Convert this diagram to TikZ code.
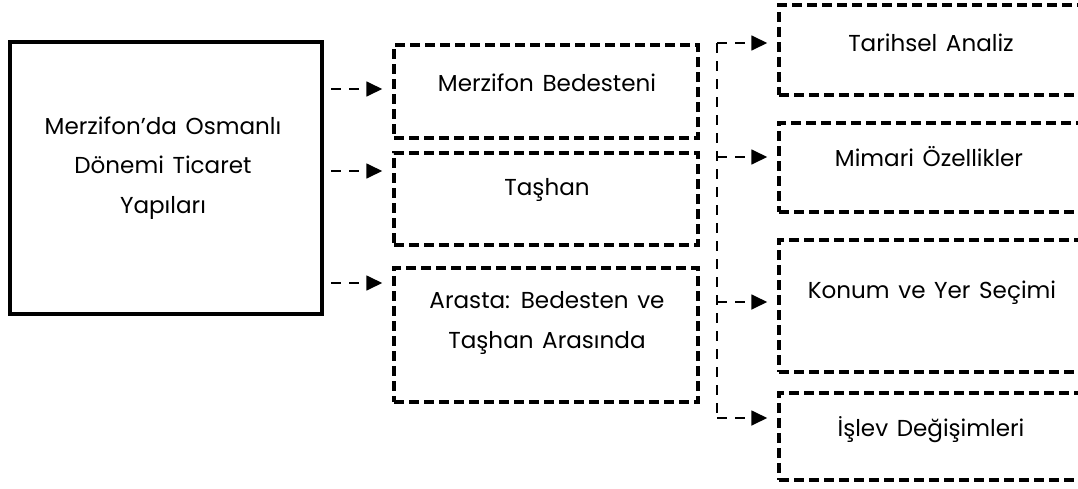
\documentclass[tikz,border=0pt]{standalone}
\usepackage{fontspec}
\setmainfont[WordSpace=1.4]{Poppins}
\usetikzlibrary{arrows.meta}
\tikzset{
  mainbox/.style={draw=black, line width=2.5pt, rectangle, inner sep=0pt},
  dbox/.style={draw=black, line width=2.5pt, dash pattern=on 7.5pt off 3.75pt, rectangle, inner sep=0pt, minimum width=228pt},
  lbl/.style={font=\fontsize{17.3}{29.5}\selectfont, align=center, inner sep=0pt},
  conn/.style={line width=1.9pt, dash pattern=on 7.5pt off 6pt, -{Triangle[length=12pt,width=11pt]}, shorten >=7.5pt},
  spine/.style={line width=1.9pt, dash pattern=on 7.5pt off 6pt}
}
\begin{document}
\begin{tikzpicture}[x=0.75pt,y=-0.75pt]
\useasboundingbox (0,0) rectangle (1078,489);
% main box
\node[mainbox, minimum width=234pt, minimum height=204pt] (main) at (166,178) {};
\node[lbl] (maintext) at (163,168) {Merzifon’da Osmanlı\\Dönemi Ticaret\\Yapıları};
% middle boxes
\node[dbox, minimum height=69.75pt] (m1) at (546,91.5) {};
\node[dbox, minimum height=69pt] (m2) at (546,199) {};
\node[dbox, minimum height=100.5pt] (m3) at (546,335) {};
\node[lbl] (m1t) at (547,83) {Merzifon Bedesteni};
\node[lbl] (m2t) at (547,190) {Taşhan};
\node[lbl] (m3t) at (547,323) {Arasta: Bedesten ve\\Taşhan Arasında};
% right boxes
\node[dbox, minimum height=67.5pt] (r1) at (931,50) {};
\node[dbox, minimum height=66.75pt] (r2) at (931,167.5) {};
\node[dbox, minimum height=99pt] (r3) at (931,306) {};
\node[dbox, minimum height=65.25pt] (r4) at (931,436.5) {};
\node[lbl] (r1t) at (931,43) {Tarihsel Analiz};
\node[lbl] (r2t) at (929,157) {Mimari Özellikler};
\node[lbl] (r3t) at (932,293) {Konum ve Yer Seçimi};
\node[lbl] (r4t) at (931,430) {İşlev Değişimleri};
% left connectors
\coordinate (a1) at (331,89);
\coordinate (a2) at (331,171);
\coordinate (a3) at (331,283);
\draw[conn] (a1) -- (a1 -| m1.west);
\draw[conn] (a2) -- (a2 -| m2.west);
\draw[conn] (a3) -- (a3 -| m3.west);
% spine connectors
\coordinate (s1) at (717,43);
\coordinate (s2) at (717,157);
\coordinate (s3) at (717,302);
\coordinate (s4) at (717,418);
\draw[spine] (s1) -- (s4);
\draw[conn] (s1) -- (s1 -| r1.west);
\draw[conn] (s2) -- (s2 -| r2.west);
\draw[conn] (s3) -- (s3 -| r3.west);
\draw[conn] (s4) -- (s4 -| r4.west);
\end{tikzpicture}
\end{document}
